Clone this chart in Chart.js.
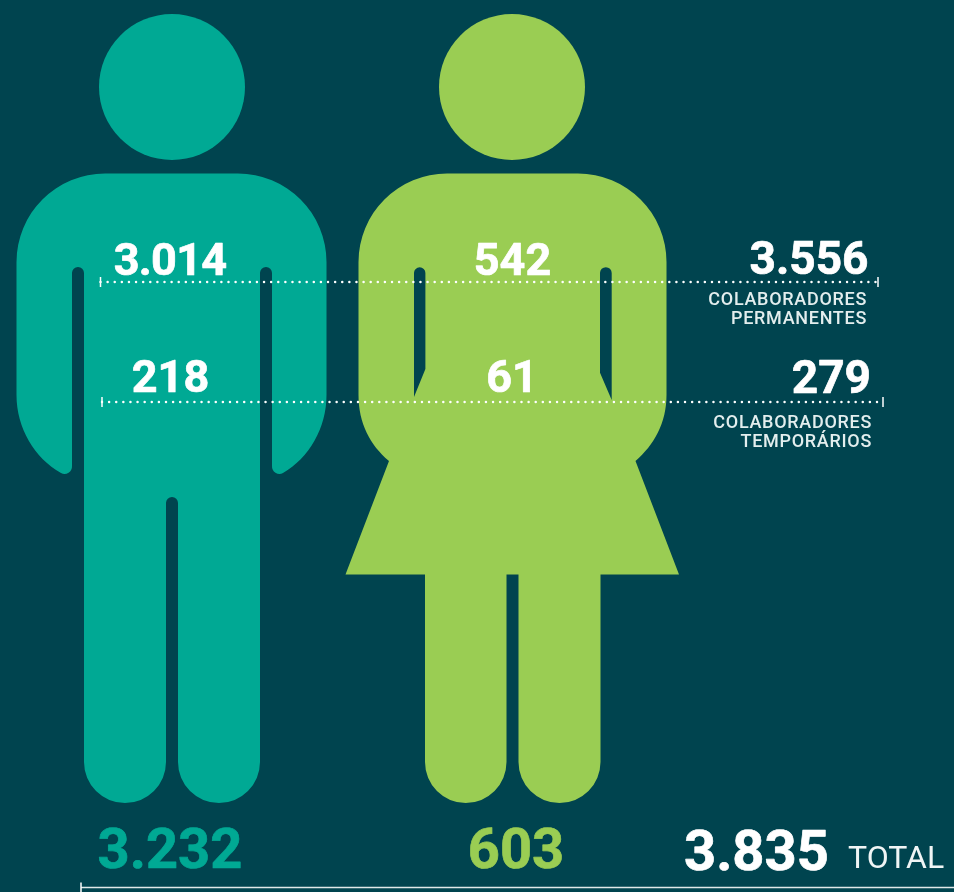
<!DOCTYPE html>
<html lang="pt-BR">
<head>
<meta charset="utf-8">
<title>Colaboradores</title>
<script src="https://cdn.jsdelivr.net/npm/chart.js@4"></script>
<style>
  html, body { margin: 0; padding: 0; background: #00444f; }
  canvas { display: block; }
</style>
</head>
<body>
<canvas id="peopleChart" width="954" height="892"></canvas>
<script>
// Dados
const generos = ['Homens', 'Mulheres'];
const permanentes = [3014, 542];
const temporarios = [218, 61];
const totaisGenero = [3232, 603];
const totaisTipo = [3556, 279];
const totalGeral = 3835;
const rotuloPermanentes = ['COLABORADORES', 'PERMANENTES'];
const rotuloTemporarios = ['COLABORADORES', 'TEMPORÁRIOS'];
const rotuloTotal = 'TOTAL';

// Cores
const COR_HOMEM = '#00a994';
const COR_MULHER = '#9acd53';
const BRANCO = '#ffffff';

// Silhuetas, nas unidades das escalas (0-954 / 0-892)
const CABECAS = [{ x: 172, y: 87, r: 73 }, { x: 512, y: 87, r: 73 }];
const FIGURA_HOMEM = 'M105 173.5H238A88.5 88.5 0 0 1 326.5 262V395C326.5 428 309 458 283 473' +
    'A7.5 7.5 0 0 1 272 466V273A6 6 0 0 0 260 273V762A41 41 0 0 1 178 762V503A6 6 0 0 0 166 503' +
    'V762A41 41 0 0 1 84 762V273A6 6 0 0 0 72 273V466A7.5 7.5 0 0 1 61 473' +
    'C34.5 458 16.5 428 16.5 395V262A88.5 88.5 0 0 1 105 173.5Z';
const FIGURA_MULHER = 'M447 173.5H578A88.5 88.5 0 0 1 666.5 262V395C666.5 423 654 445 635.5 461' +
    'L679 574.5H600.5V762A41 41 0 0 1 518.5 762V574.5H506.5V762A40.75 41 0 0 1 425 762V574.5H345.5' +
    'L389 461C370 445 358.5 423 358.5 395V262A88.5 88.5 0 0 1 447 173.5Z' +
    'M414 273A5.7 5.7 0 0 1 425.4 273V369L414 397Z' +
    'M600 273A5.8 5.8 0 0 1 611.7 273V400L600 372.7Z';

const formatar = v => String(v).replace(/\B(?=(\d{3})+$)/g, '.');

// Desenha as silhuetas por baixo das linhas
const figurasPlugin = {
    id: 'figuras',
    beforeDatasetsDraw(chart) {
        const { ctx, scales: { x, y } } = chart;
        ctx.save();
        ctx.translate(x.getPixelForValue(0), y.getPixelForValue(0));
        [[FIGURA_HOMEM, COR_HOMEM], [FIGURA_MULHER, COR_MULHER]].forEach(([d, cor], i) => {
            ctx.fillStyle = cor;
            ctx.fill(new Path2D(d), 'evenodd');
            ctx.beginPath();
            ctx.arc(CABECAS[i].x, CABECAS[i].y, CABECAS[i].r, 0, Math.PI * 2);
            ctx.fill();
        });
        ctx.restore();
    }
};

// Textos
const textosPlugin = {
    id: 'textos',
    afterDraw(chart) {
        const { ctx, scales: { x, y } } = chart;
        const texto = (t, px, py, font, cor, align, spacing, grossura) => {
            ctx.font = font;
            ctx.fillStyle = cor;
            ctx.textAlign = align;
            ctx.textBaseline = 'alphabetic';
            ctx.letterSpacing = spacing || '0px';
            ctx.fillText(t, x.getPixelForValue(px), y.getPixelForValue(py));
            if (grossura) {
                ctx.strokeStyle = cor;
                ctx.lineWidth = grossura;
                ctx.lineJoin = 'round';
                ctx.strokeText(t, x.getPixelForValue(px), y.getPixelForValue(py));
            }
        };
        const NUM = 'bold 45px Roboto';
        const LATERAL = 'bold 46px Roboto';
        const GRANDE = 'bold 56px Roboto';
        const ROT = '500 18px Roboto';
        const ROT_COR = '#e3eeee';
        const G = 0.7;

        texto(formatar(permanentes[0]), 170, 275, NUM, BRANCO, 'center', '-0.8px', G);
        texto(formatar(permanentes[1]), 512.5, 275, NUM, BRANCO, 'center', '0px', G);
        texto(formatar(temporarios[0]), 170.5, 392, NUM, BRANCO, 'center', '0px', G);
        texto(formatar(temporarios[1]), 512, 392, NUM, BRANCO, 'center', '0px', G);

        texto(formatar(totaisTipo[0]), 868.5, 274, LATERAL, BRANCO, 'right', '0px', G);
        texto(formatar(totaisTipo[1]), 871, 393, LATERAL, BRANCO, 'right', '0px', G);

        texto(rotuloPermanentes[0], 867, 305, ROT, ROT_COR, 'right', '0.7px');
        texto(rotuloPermanentes[1], 867, 323.5, ROT, ROT_COR, 'right', '0.7px');
        texto(rotuloTemporarios[0], 872, 427.5, ROT, ROT_COR, 'right', '0.7px');
        texto(rotuloTemporarios[1], 872, 446.5, ROT, ROT_COR, 'right', '0.7px');

        texto(formatar(totaisGenero[0]), 170, 868, GRANDE, COR_HOMEM, 'center', '0px', G);
        texto(formatar(totaisGenero[1]), 516, 868, GRANDE, COR_MULHER, 'center', '0px', G);
        texto(formatar(totalGeral), 684, 870, GRANDE, BRANCO, 'left', '0px', G);
        texto(rotuloTotal, 848, 868, '32px Roboto', '#f0f5f5', 'left');
    }
};

const pontilhada = (label, pts) => ({
    label,
    data: pts,
    borderColor: BRANCO,
    borderWidth: 2.5,
    borderDash: [0.01, 7.1],
    borderCapStyle: 'round',
    pointStyle: 'line',
    pointRotation: 90,
    pointRadius: 5,
    pointBorderColor: BRANCO,
    pointBorderWidth: 1.5,
    tension: 0
});

new Chart(document.getElementById('peopleChart'), {
    type: 'line',
    data: {
        datasets: [
            pontilhada('Colaboradores permanentes', [{ x: 100.5, y: 282 }, { x: 878, y: 282 }]),
            pontilhada('Colaboradores temporários', [{ x: 102, y: 402 }, { x: 883, y: 402 }]),
            {
                label: 'Total',
                data: [{ x: 81, y: 887.5 }, { x: 954, y: 887.5 }],
                borderColor: '#dfe9e9',
                borderWidth: 1.5,
                pointStyle: ['line', false],
                pointRotation: 90,
                pointRadius: 5,
                pointBorderColor: BRANCO,
                pointBorderWidth: 1.5
            }
        ]
    },
    options: {
        responsive: false,
        animation: false,
        events: [],
        layout: { padding: 0, autoPadding: false },
        plugins: { legend: { display: false }, tooltip: { enabled: false } },
        scales: {
            x: { type: 'linear', display: false, min: 0, max: 954 },
            y: { type: 'linear', display: false, min: 0, max: 892, reverse: true }
        }
    },
    plugins: [figurasPlugin, textosPlugin]
});
</script>
</body>
</html>
